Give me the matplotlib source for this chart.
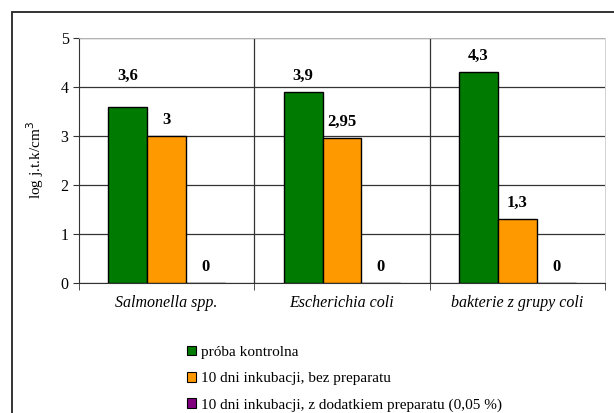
import numpy as np
import matplotlib.pyplot as plt
from matplotlib.patches import Rectangle, Patch

categories = ["Salmonella spp.", "Escherichia coli", "bakterie z grupy coli"]
series_names = ["próba kontrolna",
                "10 dni inkubacji, bez preparatu",
                "10 dni inkubacji, z dodatkiem preparatu (0,05 %)"]
kontrola = [3.6, 3.9, 4.3]
bez_prep = [3.0, 2.95, 1.3]
z_prep = [0.0, 0.0, 0.0]
labels_k = ["3,6", "3,9", "4,3"]
labels_b = ["3", "2,95", "1,3"]
labels_z = ["0", "0", "0"]

colors = ["#007A00", "#FF9900", "#800080"]

plt.rcParams["font.family"] = ["Liberation Serif", "DejaVu Serif"]

fig = plt.figure(figsize=(6.14, 4.13), dpi=100)
ax = fig.add_axes([0.1287, 0.3148, 0.8566, 0.5932])

# outer frame like the Excel chart area
fig.patches.append(Rectangle((12 / 614, -0.1), 1.1, 1 - 12 / 413 + 0.1,
                             transform=fig.transFigure, fill=False,
                             edgecolor="#333333", linewidth=1.4))

x = np.arange(len(categories))
w = 0.222
series = [kontrola, bez_prep, z_prep]
lbls = [labels_k, labels_b, labels_z]
for i, (vals, lab) in enumerate(zip(series, lbls)):
    pos = x + (i - 1) * w
    ax.bar(pos, vals, width=w, color=colors[i], edgecolor="black",
           linewidth=1.0, zorder=3)
    for j, (p, v, t) in enumerate(zip(pos, vals, lab)):
        extra = 10 if (i == 0 and j == 0) else 0
        ax.annotate(t, (p, v), xytext=(0, 6 + extra), textcoords="offset points",
                    ha="center", va="bottom", fontsize=12, fontweight="bold")

ax.set_xlim(-0.5, 2.5)
ax.set_ylim(0, 5)
ax.set_yticks([0, 1, 2, 3, 4, 5])
ax.yaxis.grid(True, color="#333333", linewidth=0.9, zorder=0)
for b in [0.5, 1.5]:
    ax.axvline(b, color="#333333", linewidth=0.9, zorder=0)
ax.set_xticks(x)
ax.set_xticklabels(categories, fontstyle="italic", fontsize=11.5)
ax.tick_params(axis="x", length=0, pad=9)
ax.set_xticks([-0.5, 0.5, 1.5, 2.5], minor=True)
ax.tick_params(axis="x", which="minor", length=5, color="#333333")
ax.tick_params(axis="y", labelsize=11.5, length=4, color="#333333")
ax.set_ylabel("log j.t.k/cm$^3$", fontsize=11)
ax.yaxis.set_label_coords(-0.062, 0.5)

for s in ["top", "right"]:
    ax.spines[s].set_color("#cccccc")
    ax.spines[s].set_linewidth(0.6)
for s in ["left", "bottom"]:
    ax.spines[s].set_color("#333333")

handles = [Patch(facecolor=c, edgecolor="black", linewidth=0.8) for c in colors]
fig.legend(handles, series_names, loc="upper left",
           bbox_to_anchor=(0.295, 0.178), frameon=False, fontsize=11,
           handlelength=0.6, handleheight=0.6, handletextpad=0.3,
           labelspacing=0.85, borderaxespad=0)

fig.savefig("out.png", dpi=100)
